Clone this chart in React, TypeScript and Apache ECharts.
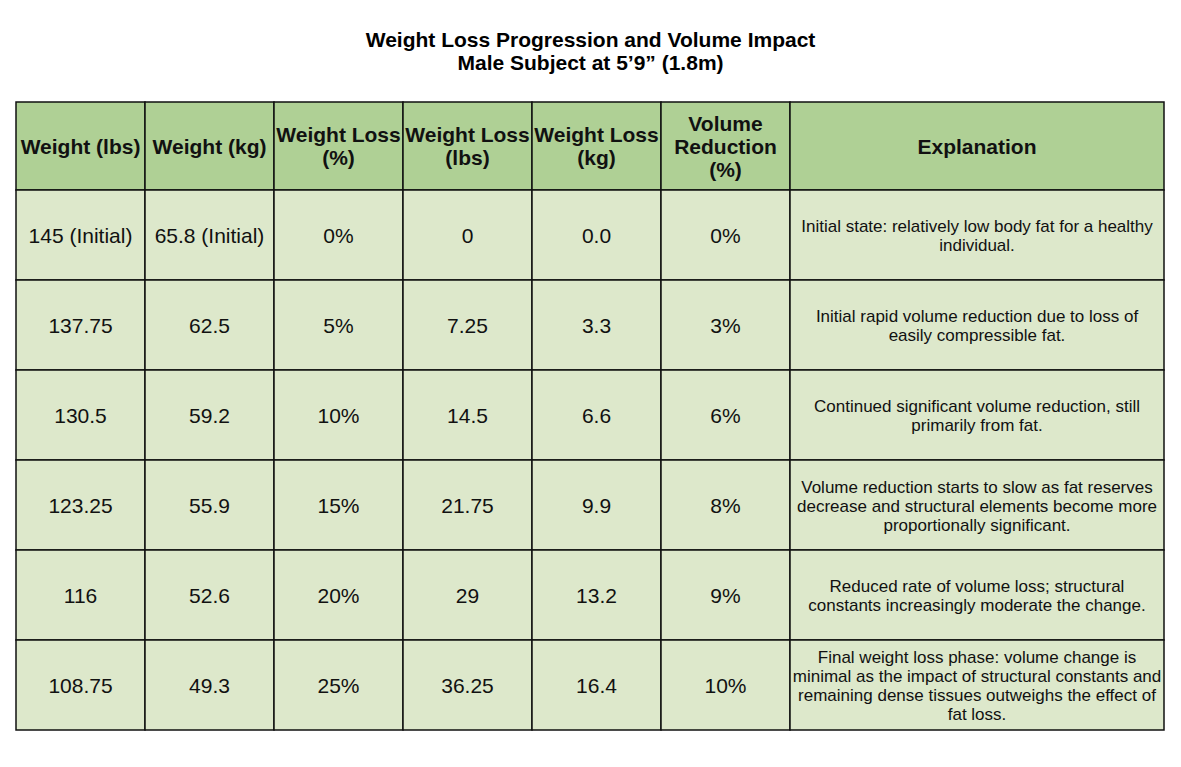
import React, { useEffect, useRef } from "react";
import * as echarts from "echarts";

// ---- Data ----
const titleLines = ["Weight Loss Progression and Volume Impact", "Male Subject at 5’9” (1.8m)"];
const headers = [
  "Weight (lbs)",
  "Weight (kg)",
  "Weight Loss\n(%)",
  "Weight Loss\n(lbs)",
  "Weight Loss\n(kg)",
  "Volume\nReduction\n(%)",
  "Explanation",
];
const weightLbs = [145, 137.75, 130.5, 123.25, 116, 108.75];
const weightKg = [65.8, 62.5, 59.2, 55.9, 52.6, 49.3];
const weightLossPct = [0, 5, 10, 15, 20, 25];
const weightLossLbs = [0, 7.25, 14.5, 21.75, 29, 36.25];
const weightLossKg = [0, 3.3, 6.6, 9.9, 13.2, 16.4];
const volumeReductionPct = [0, 3, 6, 8, 9, 10];
const explanations = [
  "Initial state: relatively low body fat for a healthy\nindividual.",
  "Initial rapid volume reduction due to loss of\neasily compressible fat.",
  "Continued significant volume reduction, still\nprimarily from fat.",
  "Volume reduction starts to slow as fat reserves\ndecrease and structural elements become more\nproportionally significant.",
  "Reduced rate of volume loss; structural\nconstants increasingly moderate the change.",
  "Final weight loss phase: volume change is\nminimal as the impact of structural constants and\nremaining dense tissues outweighs the effect of\nfat loss.",
];

// ---- Layout (sizes) ----
const colWidths = [129, 129, 129, 129, 129, 129, 374];
const headerHeight = 88;
const rowHeight = 90;

export default function App() {
  const ref = useRef<HTMLDivElement>(null);

  useEffect(() => {
    if (!ref.current) return;
    const chart = echarts.init(ref.current, undefined, { renderer: "svg" });

    const rows: string[][] = [headers];
    for (let i = 0; i < weightLbs.length; i++) {
      rows.push([
        i === 0 ? `${weightLbs[i]} (Initial)` : String(weightLbs[i]),
        i === 0 ? `${weightKg[i].toFixed(1)} (Initial)` : weightKg[i].toFixed(1),
        `${weightLossPct[i]}%`,
        String(weightLossLbs[i]),
        weightLossKg[i].toFixed(1),
        `${volumeReductionPct[i]}%`,
        explanations[i],
      ]);
    }

    const colEdges = [0];
    colWidths.forEach((w) => colEdges.push(colEdges[colEdges.length - 1] + w));
    const rowEdges = [0, headerHeight];
    for (let i = 0; i < weightLbs.length; i++) rowEdges.push(rowEdges[rowEdges.length - 1] + rowHeight);
    const totalW = colEdges[colEdges.length - 1];
    const totalH = rowEdges[rowEdges.length - 1];

    const cells: any[] = [];
    rows.forEach((row, r) => row.forEach((_, c) => cells.push([c, r])));

    const font = "'Liberation Sans', Arial, sans-serif";

    chart.setOption({
      animation: false,
      title: {
        text: titleLines.join("\n"),
        left: "center",
        top: 28,
        padding: 0,
        textStyle: {
          fontFamily: font,
          fontSize: 21,
          fontWeight: "bold",
          lineHeight: 23,
          color: "#000",
        },
      },
      grid: { left: 16, top: 102, width: totalW, height: totalH },
      xAxis: { type: "value", min: 0, max: totalW, show: false },
      yAxis: { type: "value", min: 0, max: totalH, inverse: true, show: false },
      series: [
        {
          type: "custom",
          silent: true,
          clip: false,
          data: cells,
          renderItem: (params: any, api: any) => {
            const c = api.value(0);
            const r = api.value(1);
            const p0 = api.coord([colEdges[c], rowEdges[r]]);
            const p1 = api.coord([colEdges[c + 1], rowEdges[r + 1]]);
            const isHeader = r === 0;
            const isExpl = c === 6 && !isHeader;
            const text = rows[r][c];
            return {
              type: "group",
              children: [
                {
                  type: "rect",
                  shape: { x: p0[0], y: p0[1], width: p1[0] - p0[0], height: p1[1] - p0[1] },
                  style: { fill: isHeader ? "#AFD095" : "#DDE8CB", stroke: "#111", lineWidth: 1.5 },
                },
                {
                  type: "text",
                  x: (p0[0] + p1[0]) / 2,
                  y: (p0[1] + p1[1]) / 2 + (isExpl ? 1 : 0),
                  style: {
                    text,
                    align: "center",
                    verticalAlign: "middle",
                    fontFamily: font,
                    fontSize: isHeader ? 21 : isExpl ? 17 : 21,
                    fontWeight: isHeader ? "bold" : "normal",
                    lineHeight: isHeader ? 23 : isExpl ? 19 : 23,
                    fill: "#111",
                  },
                },
              ],
            };
          },
        },
      ],
    });

    return () => chart.dispose();
  }, []);

  return (
    <div
      ref={ref}
      style={{ position: "absolute", left: 0, top: 0, width: 1181, height: 767, background: "#fff" }}
    />
  );
}
